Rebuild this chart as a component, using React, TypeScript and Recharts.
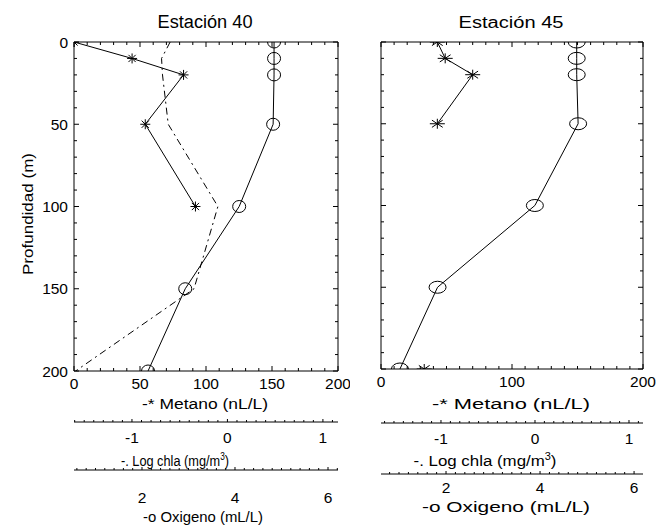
import React from 'react';
import { ScatterChart, Scatter, XAxis, YAxis } from 'recharts';

const FONT = '"Liberation Sans", Arial, Helvetica, sans-serif';

// ---------- Data: Estación 40 ----------
const depth40 = [0, 10, 20, 50, 100, 150, 200];
const metanoDepth40 = [0, 10, 20, 50, 100];
const metano40 = [0, 44, 83, 54, 92];
const chla40 = [-0.6, -0.69, -0.68, -0.62, -0.1, -0.35, -1.59];
const oxigeno40 = [4.84, 4.84, 4.84, 4.82, 4.09, 2.93, 2.13];

// ---------- Data: Estación 45 ----------
const depth45 = [0, 10, 20, 50, 100, 150, 200];
const metanoDepth45 = [0, 10, 20, 50];
const metano45 = [43, 49, 70, 43];
const metanoDeepDepth45 = [200];
const metanoDeep45 = [33];
const oxigeno45 = [4.78, 4.78, 4.78, 4.81, 3.89, 1.82, 1.02];

// ---------- Tick labels / texts ----------
const depthTicks = [0, 50, 100, 150, 200];
const metanoTicks40 = [0, 50, 100, 150, 200];
const metanoTicks45 = [0, 100, 200];
const chlaTicks = [-1, 0, 1];
const oxigenoTicks = [2, 4, 6];
const stationTitles = ['Estación 40', 'Estación 45'];
const depthLabel = 'Profundidad (m)';
const metanoLabel = '-* Metano (nL/L)';
const chlaLabel = '-. Log chla (mg/m';
const chlaSup = '3';
const oxigenoLabel = '-o Oxigeno (mL/L)';

// approx. natural width (em) of the chla title in Arial metrics, used to scale it
const CHLA_EM = 8.47;

const range = (a: number, b: number, step: number) => {
  const out: number[] = [];
  const start = Math.ceil(a / step - 1e-9) * step;
  for (let i = 0; start + i * step <= b + 1e-9; i++) out.push(Math.round((start + i * step) * 1000) / 1000);
  return out;
};
const toPts = (depths: number[], vals: number[]) => depths.map((d, i) => ({ d, v: vals[i] }));
const isIn = (arr: number[], v: number) => arr.some((m) => Math.abs(m - v) < 1e-6);

const bottomTick = (majors: number[], labelDy: number, majorLen: number, minorLen: number, fs: number) => (props: any) => {
  const { x, y, payload } = props;
  const v = payload.value;
  const major = isIn(majors, v);
  return (
    <g>
      <line x1={x} x2={x} y1={y} y2={y - (major ? majorLen : minorLen)} stroke="#000" strokeWidth={1} />
      {major && (
        <text x={x} y={y + labelDy} textAnchor="middle" fontSize={fs} fontFamily={FONT} fill="#000">
          {String(v)}
        </text>
      )}
    </g>
  );
};

const topTick = (majors: number[]) => (props: any) => {
  const { x, y, payload } = props;
  const major = isIn(majors, payload.value);
  return <line x1={x} x2={x} y1={y} y2={y + (major ? 5 : 3)} stroke="#000" strokeWidth={1} />;
};

const leftTick = (majors: number[], showLabels: boolean) => (props: any) => {
  const { x, y, payload } = props;
  const major = isIn(majors, payload.value);
  return (
    <g>
      <line x1={x} x2={x + (major ? 5 : 3)} y1={y} y2={y} stroke="#000" strokeWidth={1} />
      {major && showLabels && (
        <text x={x - 6} y={y + 5.5} textAnchor="end" fontSize={15.5} fontFamily={FONT} fill="#000">
          {String(payload.value)}
        </text>
      )}
    </g>
  );
};

const rightTick = (majors: number[]) => (props: any) => {
  const { x, y, payload } = props;
  const major = isIn(majors, payload.value);
  return <line x1={x} x2={x - (major ? 5 : 3)} y1={y} y2={y} stroke="#000" strokeWidth={1} />;
};

const xTitle = (text: string, cx: number, dy: number, w: number, fs: number) => (props: any) => {
  const vb = props.viewBox || {};
  return (
    <text
      x={cx}
      y={(vb.y || 0) + dy}
      textAnchor="middle"
      fontSize={fs}
      fontFamily={FONT}
      fill="#000"
      textLength={w}
      lengthAdjust="spacingAndGlyphs"
    >
      {text}
    </text>
  );
};

const chlaTitle = (cx: number, dy: number, w: number, fs: number) => (props: any) => {
  const vb = props.viewBox || {};
  const sx = w / (CHLA_EM * fs);
  return (
    <g transform={`translate(${cx} ${(vb.y || 0) + dy}) scale(${sx} 1)`}>
      <text x={0} y={0} textAnchor="middle" fontSize={fs} fontFamily={FONT} fill="#000">
        {chlaLabel}
        <tspan dy={-6} fontSize={fs * 0.65}>{chlaSup}</tspan>
        <tspan dy={6}>)</tspan>
      </text>
    </g>
  );
};

const yTitle = (text: string, cx: number, cy: number, w: number) => () => (
  <text
    x={cx}
    y={cy}
    transform={`rotate(-90 ${cx} ${cy})`}
    textAnchor="middle"
    dominantBaseline="central"
    fontSize={15.5}
    fontFamily={FONT}
    fill="#000"
    textLength={w}
    lengthAdjust="spacingAndGlyphs"
  >
    {text}
  </text>
);

const asterisk = (rx: number, ry: number) => (props: any) => {
  const { cx, cy } = props;
  const dx = rx * 0.72;
  const dyy = ry * 0.72;
  return (
    <g stroke="#000" strokeWidth={1}>
      <line x1={cx - rx} x2={cx + rx} y1={cy} y2={cy} />
      <line x1={cx} x2={cx} y1={cy - ry} y2={cy + ry} />
      <line x1={cx - dx} x2={cx + dx} y1={cy - dyy} y2={cy + dyy} />
      <line x1={cx - dx} x2={cx + dx} y1={cy + dyy} y2={cy - dyy} />
    </g>
  );
};
const ellipse = (rx: number, ry: number) => (props: any) => (
  <ellipse cx={props.cx} cy={props.cy} rx={rx} ry={ry} fill="none" stroke="#000" strokeWidth={1} />
);
const noShape = () => <g />;

const solid = { stroke: '#000', strokeWidth: 1 };
const dashDot = { stroke: '#000', strokeWidth: 1, strokeDasharray: '7 4 2 4' };

type Cfg = {
  width: number;
  yW: number;
  rW: number;
  hM: number;
  hC: number;
  hO: number;
  chlaDomain: [number, number];
  oxDomain: [number, number];
  metanoMajors: number[];
  showDepth: boolean;
  title: string;
  titleFs: number;
  titleW: number;
  titleCx: number;
  tickDyM: number;
  tickDyC: number;
  tickDyO: number;
  mCx: number; mDy: number; mW: number;
  cCx: number; cDy: number; cW: number;
  oCx: number; oDy: number; oW: number;
};

// axis ids chosen so that their sorted order is metano, chla, oxigeno
const ID_M = 'x1_metano';
const ID_C = 'x2_chla';
const ID_O = 'x3_oxigeno';
const ID_T = 'x0_top';

const Panel = ({ cfg, children }: { cfg: Cfg; children: React.ReactNode }) => {
  const metanoMinor = range(0, 200, 10);
  const depthMinor = range(0, 200, 10);
  const chlaMinor = range(cfg.chlaDomain[0], cfg.chlaDomain[1], 0.1);
  const oxMinor = range(cfg.oxDomain[0], cfg.oxDomain[1], 0.2);
  const common = { type: 'number' as const, dataKey: 'v', interval: 0 as const, tickLine: false, tickSize: 0, tickMargin: 0, allowDataOverflow: true, axisLine: { stroke: '#000', strokeWidth: 1 } };
  return (
    <ScatterChart width={cfg.width} height={525} margin={{ top: 0, right: 0, bottom: 0, left: 0 }}>
      <XAxis
        {...common}
        xAxisId={ID_T}
        orientation="top"
        domain={[0, 200]}
        ticks={metanoMinor}
        height={42}
        tick={topTick(cfg.metanoMajors)}
        label={xTitle(cfg.title, cfg.titleCx, 28, cfg.titleW, cfg.titleFs)}
      />
      <XAxis
        {...common}
        xAxisId={ID_M}
        orientation="bottom"
        domain={[0, 200]}
        ticks={metanoMinor}
        height={cfg.hM}
        tick={bottomTick(cfg.metanoMajors, cfg.tickDyM, 5, 3, 15.5)}
        label={xTitle(metanoLabel, cfg.mCx, cfg.mDy, cfg.mW, 15.5)}
      />
      <XAxis
        {...common}
        xAxisId={ID_C}
        orientation="bottom"
        domain={cfg.chlaDomain}
        ticks={chlaMinor}
        height={cfg.hC}
        tick={bottomTick(chlaTicks, cfg.tickDyC, 3, 2, 15.5)}
        label={chlaTitle(cfg.cCx, cfg.cDy, cfg.cW, 15.5)}
      />
      <XAxis
        {...common}
        xAxisId={ID_O}
        orientation="bottom"
        domain={cfg.oxDomain}
        ticks={oxMinor}
        height={cfg.hO}
        tick={bottomTick(oxigenoTicks, cfg.tickDyO, 3, 2, 15.5)}
        label={xTitle(oxigenoLabel, cfg.oCx, cfg.oDy, cfg.oW, 15.5)}
      />
      <YAxis
        {...common}
        dataKey="d"
        yAxisId="d"
        orientation="left"
        domain={[0, 200]}
        reversed
        ticks={depthMinor}
        width={cfg.yW}
        tick={leftTick(depthTicks, cfg.showDepth)}
        label={cfg.showDepth ? yTitle(depthLabel, 27, 214, 122) : undefined}
      />
      <YAxis
        {...common}
        dataKey="d"
        yAxisId="r"
        orientation="right"
        domain={[0, 200]}
        reversed
        ticks={depthMinor}
        width={cfg.rW}
        tick={rightTick(depthTicks)}
      />
      {children}
    </ScatterChart>
  );
};

const cfg40: Cfg = {
  width: 350, yW: 74, rW: 12, hM: 51, hC: 48, hO: 55,
  chlaDomain: [-1.607, 1.158], oxDomain: [0.538, 6.215],
  metanoMajors: metanoTicks40, showDepth: true,
  title: stationTitles[0], titleFs: 18, titleW: 95, titleCx: 205,
  tickDyM: 17.5, tickDyC: 20.5, tickDyO: 32.5,
  mCx: 205, mDy: 37.5, mW: 126,
  cCx: 175, cDy: 43.5, cW: 108,
  oCx: 203, oDy: 51.5, oW: 120,
};

const cfg45: Cfg = {
  width: 313, yW: 31, rW: 20, hM: 54, hC: 51, hO: 51,
  chlaDomain: [-1.638, 1.149], oxDomain: [0.617, 6.19],
  metanoMajors: metanoTicks45, showDepth: false,
  title: stationTitles[1], titleFs: 16, titleW: 105, titleCx: 161,
  tickDyM: 17.5, tickDyC: 20.5, tickDyO: 18.5,
  mCx: 161, mDy: 39.5, mW: 158,
  cCx: 135, cDy: 42.5, cW: 143,
  oCx: 156, oDy: 37.5, oW: 168,
};

export default function App() {
  return (
    <div style={{ position: 'absolute', left: 0, top: 0, width: 663, height: 525, background: '#fff' }}>
      <div style={{ position: 'absolute', left: 0, top: 0 }}>
        <Panel cfg={cfg40}>
          <Scatter xAxisId={ID_C} yAxisId="d" data={toPts(depth40, chla40)} line={dashDot} lineType="joint" shape={noShape} isAnimationActive={false} />
          <Scatter xAxisId={ID_M} yAxisId="d" data={toPts(metanoDepth40, metano40)} line={solid} lineType="joint" shape={asterisk(5, 5)} isAnimationActive={false} />
          <Scatter xAxisId={ID_O} yAxisId="d" data={toPts(depth40, oxigeno40)} line={solid} lineType="joint" shape={ellipse(6.5, 6)} isAnimationActive={false} />
        </Panel>
      </div>
      <div style={{ position: 'absolute', left: 350, top: 0 }}>
        <Panel cfg={cfg45}>
          <Scatter xAxisId={ID_M} yAxisId="d" data={toPts(metanoDepth45, metano45)} line={solid} lineType="joint" shape={asterisk(7.5, 5)} isAnimationActive={false} />
          <Scatter xAxisId={ID_M} yAxisId="d" data={toPts(metanoDeepDepth45, metanoDeep45)} shape={asterisk(7.5, 5)} isAnimationActive={false} />
          <Scatter xAxisId={ID_O} yAxisId="d" data={toPts(depth45, oxigeno45)} line={solid} lineType="joint" shape={ellipse(8.5, 6)} isAnimationActive={false} />
        </Panel>
      </div>
    </div>
  );
}
